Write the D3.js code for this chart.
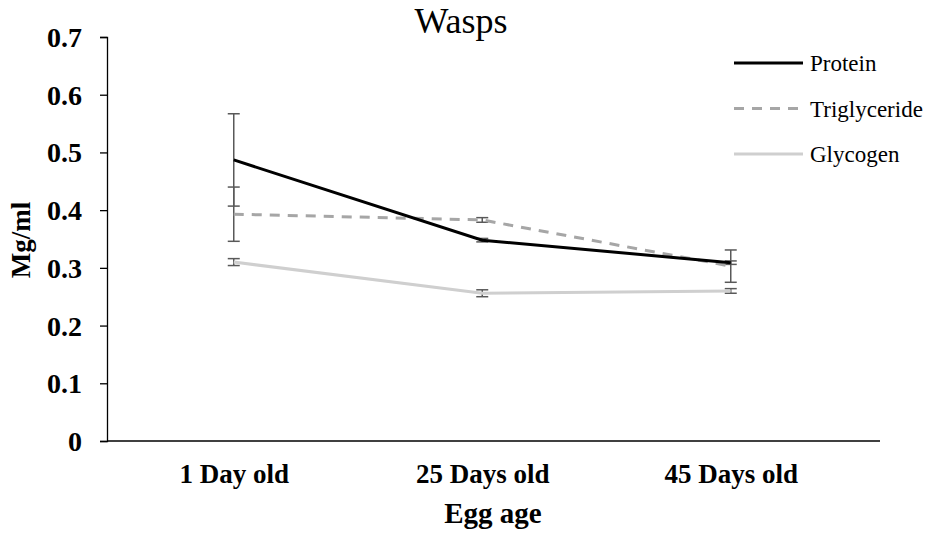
<!DOCTYPE html>
<html>
<head>
    <meta charset="utf-8">
    <script src="https://d3js.org/d3.v7.min.js"></script>
    <style>
        body { margin: 0; background: #fff; }
    </style>
</head>
<body>
    <svg id="chart"></svg>
    <script>
        // Chart data
        const ages = ["1 Day old", "25 Days old", "45 Days old"];
        const protein = [0.487, 0.348, 0.309];
        const proteinErr = [0.080, 0.003, 0.003];
        const triglyceride = [0.393, 0.383, 0.303];
        const triglycerideErr = [0.047, 0.004, 0.028];
        const glycogen = [0.310, 0.256, 0.260];
        const glycogenErr = [0.006, 0.006, 0.004];
        const yTicks = [0, 0.1, 0.2, 0.3, 0.4, 0.5, 0.6, 0.7];

        const width = 934, height = 537;
        const margin = {left: 107, right: 79, top: 37, bottom: 96};
        const serif = "'Liberation Serif', 'Times New Roman', serif";

        const svg = d3.select("#chart")
            .attr("width", width)
            .attr("height", height)
            .style("font-family", serif);

        const x = d3.scalePoint()
            .domain(ages)
            .range([109.5, 855])
            .padding(0.5);

        const y = d3.scaleLinear()
            .domain([0, 0.7])
            .range([height - margin.bottom, margin.top]);

        // y axis
        const yAxis = svg.append("g")
            .attr("transform", `translate(${margin.left},0)`)
            .call(d3.axisLeft(y).tickValues(yTicks).tickSize(7).tickFormat(d => d === 0 ? "0" : d3.format(".1f")(d)));
        yAxis.attr("font-family", null);
        yAxis.select(".domain").attr("stroke", "#000").attr("stroke-width", 1.3);
        yAxis.selectAll(".tick line").attr("stroke", "#000").attr("stroke-width", 1.3);
        yAxis.selectAll(".tick text")
            .attr("x", -25)
            .attr("dy", "0.34em")
            .style("font-family", serif)
            .style("font-size", "28px")
            .style("font-weight", "bold")
            .attr("fill", "#000");

        // x axis
        const xAxis = svg.append("g")
            .attr("transform", `translate(0,${y(0)})`)
            .call(d3.axisBottom(x).tickSize(0).tickSizeOuter(0));
        xAxis.attr("font-family", null);
        xAxis.select(".domain").attr("stroke", "#000").attr("stroke-width", 1.3)
            .attr("d", `M${margin.left},0H880`);
        xAxis.selectAll(".tick text")
            .attr("y", 42)
            .attr("dy", 0)
            .style("font-family", serif)
            .style("font-size", "27px")
            .style("font-weight", "bold")
            .attr("fill", "#000");

        // Series
        const series = [
            {name: "Protein", values: protein, err: proteinErr, color: "#000000", dash: null},
            {name: "Triglyceride", values: triglyceride, err: triglycerideErr, color: "#a6a6a6", dash: "10,8"},
            {name: "Glycogen", values: glycogen, err: glycogenErr, color: "#cfcfcf", dash: null}
        ];

        const line = d3.line()
            .x((d, i) => x(ages[i]))
            .y(d => y(d));

        // Error bars
        series.forEach(s => {
            const g = svg.append("g");
            s.values.forEach((v, i) => {
                const cx = x(ages[i]);
                const lo = y(v - s.err[i]), hi = y(v + s.err[i]);
                g.append("line").attr("x1", cx).attr("x2", cx).attr("y1", lo).attr("y2", hi)
                    .attr("stroke", "#595959").attr("stroke-width", 1.5);
                [lo, hi].forEach(yy => {
                    g.append("line").attr("x1", cx - 6).attr("x2", cx + 6).attr("y1", yy).attr("y2", yy)
                        .attr("stroke", "#595959").attr("stroke-width", 1.5);
                });
            });
        });

        // Lines (draw glycogen first, protein on top)
        series.slice().reverse().forEach(s => {
            svg.append("path")
                .datum(s.values)
                .attr("d", line)
                .attr("fill", "none")
                .attr("stroke", s.color)
                .attr("stroke-width", 3)
                .attr("stroke-dasharray", s.dash);
        });

        // Legend
        const legend = svg.append("g");
        series.forEach((s, i) => {
            const ly = 63 + i * 45.5;
            legend.append("line")
                .attr("x1", 734).attr("x2", 803).attr("y1", ly).attr("y2", ly)
                .attr("stroke", s.color).attr("stroke-width", 3)
                .attr("stroke-dasharray", s.dash);
            legend.append("text")
                .attr("x", 810).attr("y", ly + 8)
                .style("font-family", serif)
                .style("font-size", "23px")
                .text(s.name);
        });

        // Title
        svg.append("text")
            .attr("x", 461).attr("y", 33)
            .attr("text-anchor", "middle")
            .style("font-family", serif)
            .style("font-size", "36px")
            .text("Wasps");

        // Axis titles
        svg.append("text")
            .attr("x", 493).attr("y", 523)
            .attr("text-anchor", "middle")
            .style("font-family", serif)
            .style("font-size", "29px")
            .style("font-weight", "bold")
            .text("Egg age");

        svg.append("text")
            .attr("transform", "translate(30,240) rotate(-90)")
            .attr("text-anchor", "middle")
            .style("font-family", serif)
            .style("font-size", "27px")
            .style("font-weight", "bold")
            .text("Mg/ml");
    </script>
</body>
</html>
